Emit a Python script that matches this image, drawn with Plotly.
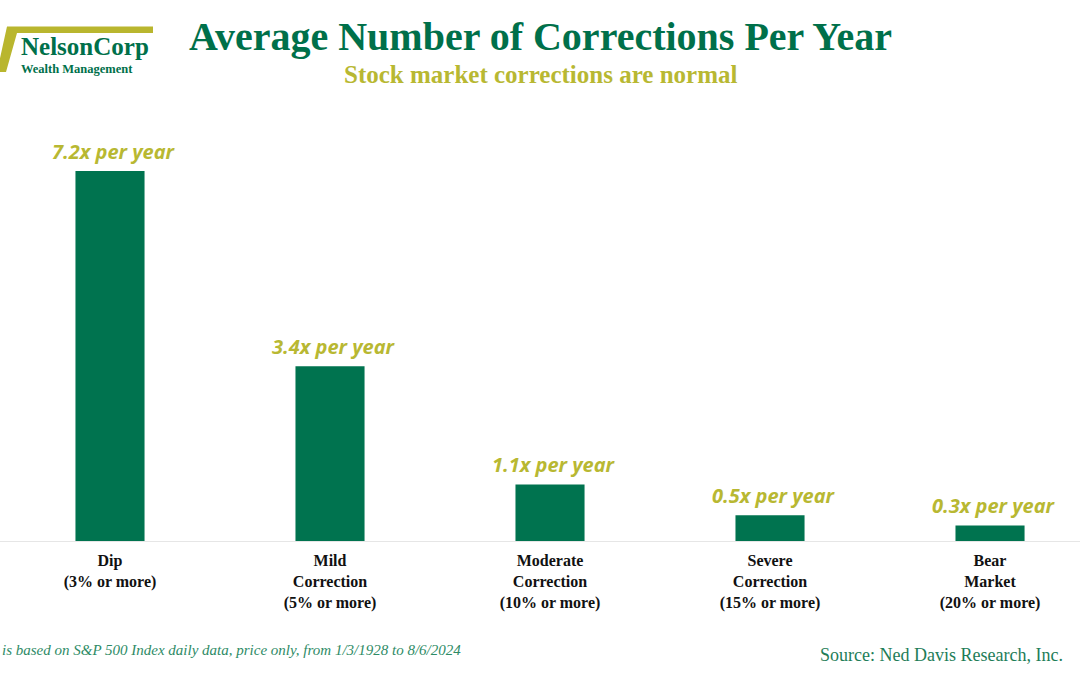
import plotly.graph_objects as go

categories = ["Dip", "Mild Correction", "Moderate Correction", "Severe Correction", "Bear Market"]
tick_labels = [
    "<b>Dip<br>(3% or more)<br> </b>",
    "<b>Mild<br>Correction<br>(5% or more)</b>",
    "<b>Moderate<br>Correction<br>(10% or more)</b>",
    "<b>Severe<br>Correction<br>(15% or more)</b>",
    "<b>Bear<br>Market<br>(20% or more)</b>",
]
values = [7.2, 3.4, 1.1, 0.5, 0.3]
value_labels = ["7.2x per year", "3.4x per year", "1.1x per year", "0.5x per year", "0.3x per year"]

GREEN = "#00734F"
OLIVE = "#B8B832"
TEXT_GREEN = "#00704A"

xs = list(range(len(categories)))

fig = go.Figure()
fig.add_trace(go.Bar(
    x=xs,
    y=values,
    width=0.314,
    marker=dict(color=GREEN, line=dict(width=0)),
    hoverinfo="skip",
))

for xi, v, lab in zip(xs, values, value_labels):
    fig.add_annotation(x=xi, y=v, text=lab, xref="x", yref="y", showarrow=False,
                       xanchor="center", yanchor="middle", yshift=20, xshift=4,
                       font=dict(family="Open Sans", size=20, color=OLIVE, style="italic", weight="bold"))

fig.update_layout(
    width=1080, height=675,
    margin=dict(l=0, r=0, t=0, b=134),
    paper_bgcolor="white", plot_bgcolor="white",
    showlegend=False,
    xaxis=dict(
        range=[-0.5, 4.409],
        tickmode="array",
        tickvals=xs,
        ticktext=tick_labels,
        tickfont=dict(family="Liberation Serif", size=16, color="#111111"),
        ticks="", showgrid=False, zeroline=False,
        showline=True, linecolor="#E6E6E6", linewidth=1,
        ticklabelstandoff=5,
        fixedrange=True,
    ),
    yaxis=dict(range=[0, 10.53], visible=False, showgrid=False, zeroline=False, fixedrange=True),
)

# Title and subtitle
fig.add_annotation(text="<b>Average Number of Corrections Per Year</b>", xref="paper", yref="paper",
                   x=540/1080, y=1 - 37/541, xanchor="center", yanchor="middle", showarrow=False,
                   font=dict(family="Liberation Serif", size=40, color=TEXT_GREEN))
fig.add_annotation(text="<b>Stock market corrections are normal</b>", xref="paper", yref="paper",
                   x=540/1080, y=1 - 75/541, xanchor="center", yanchor="middle", showarrow=False,
                   font=dict(family="Liberation Serif", size=25, color=OLIVE))

# Logo
fig.add_shape(type="path", xref="paper", yref="paper",
              path="M %f,%f L %f,%f L %f,%f L %f,%f L %f,%f L %f,%f Z" % (
                  7/1080, 1 - 26.5/541,
                  153/1080, 1 - 26.5/541,
                  153/1080, 1 - 33/541,
                  17/1080, 1 - 33/541,
                  6/1080, 1 - 72/541,
                  -3/1080, 1 - 72/541),
              fillcolor="#B9B62E", line=dict(width=0), layer="above")
fig.add_annotation(text="<b>NelsonCorp</b>", xref="paper", yref="paper",
                   x=19/1080, y=1 - 47/541, xanchor="left", yanchor="middle", showarrow=False,
                   font=dict(family="Liberation Serif", size=25, color=TEXT_GREEN))
fig.add_annotation(text="<b>Wealth Management</b>", xref="paper", yref="paper",
                   x=19/1080, y=1 - 69/541, xanchor="left", yanchor="middle", showarrow=False,
                   font=dict(family="Liberation Serif", size=12.5, color=TEXT_GREEN))

# Footnotes
fig.add_annotation(text="<i>is based on S&P 500 Index daily data, price only, from 1/3/1928 to 8/6/2024</i>",
                   xref="paper", yref="paper", x=0, y=-(650-541)/541,
                   xanchor="left", yanchor="middle", showarrow=False,
                   font=dict(family="Liberation Serif", size=15, color="#2E8B66"))
fig.add_annotation(text="Source: Ned Davis Research, Inc.",
                   xref="paper", yref="paper", x=818/1080, y=-(655-541)/541,
                   xanchor="left", yanchor="middle", showarrow=False,
                   font=dict(family="Liberation Serif", size=18, color="#1E7D58"))

fig.write_html("out.html", config={"displayModeBar": False},
               post_script="document.body.style.margin='0px';document.body.style.overflow='hidden';")
